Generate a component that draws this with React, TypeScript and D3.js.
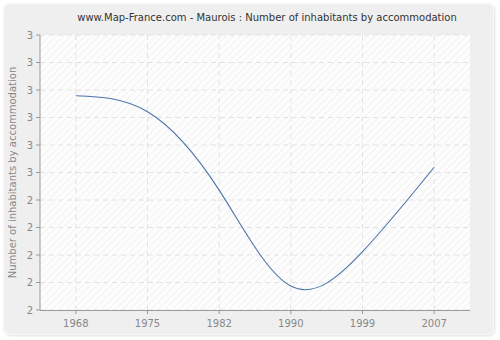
import React from "react";
import * as d3 from "d3";

const years = ["1968", "1975", "1982", "1990", "1999", "2007"];
const values = [2.779, 2.721, 2.436, 2.087, 2.212, 2.519];
const yTicks = [2, 2.1, 2.2, 2.3, 2.4, 2.5, 2.6, 2.7, 2.8, 2.9, 3];

const W = 500, H = 340;
const L = 40, R = 470, T = 35, B = 310;

export default function App() {
  const x = d3.scaleBand<string>().domain(years).range([L, R]);
  const y = d3.scaleLinear().domain([2, 3]).range([B, T]);
  const cx = (d: string) => (x(d) as number) + x.bandwidth() / 2;
  const line = d3
    .line<number>()
    .x((_, i) => cx(years[i]))
    .y((d) => y(d))
    .curve(d3.curveNatural);
  const font = "'DejaVu Sans', Verdana, sans-serif";
  return (
    <svg width={W} height={H} style={{ position: "absolute", left: 0, top: 0 }} fontFamily={font}>
      <defs>
        <pattern id="hatch" width="5" height="5" patternUnits="userSpaceOnUse" patternTransform="rotate(45)">
          <rect width="5" height="5" fill="#fdfdfd" />
          <line x1="0" y1="0" x2="0" y2="5" stroke="#ececec" strokeWidth="1.2" />
        </pattern>
        <filter id="sh" x="-5%" y="-5%" width="110%" height="110%">
          <feDropShadow dx="1" dy="1" stdDeviation="1.2" floodColor="#000" floodOpacity="0.12" />
        </filter>
      </defs>
      <rect x={0} y={0} width={W} height={H} fill="#ffffff" />
      <rect x={3.5} y={3.5} width={490} height={331} rx={6} fill="#efefef" stroke="#f8f8f8" filter="url(#sh)" />
      <text x={267} y={21} textAnchor="middle" fontSize={10} fill="#333">
        www.Map-France.com - Maurois : Number of inhabitants by accommodation
      </text>
      <rect x={L} y={T} width={R - L} height={B - T} fill="url(#hatch)" />
      {yTicks.map((t) => (
        <line key={"gy" + t} x1={L} x2={R} y1={y(t)} y2={y(t)} stroke="#e2e2e2" strokeDasharray="5,4" />
      ))}
      {years.map((yr) => (
        <line key={"gx" + yr} x1={cx(yr)} x2={cx(yr)} y1={T} y2={B} stroke="#e2e2e2" strokeDasharray="5,4" />
      ))}
      <path d={line(values) || ""} fill="none" stroke="#4a74a8" strokeWidth={1.1} />
      <line x1={L} x2={L} y1={T} y2={B} stroke="#999" />
      <line x1={L} x2={R} y1={B + 0.5} y2={B + 0.5} stroke="#999" />
      {yTicks.map((t) => (
        <g key={"ty" + t}>
          <line x1={L - 4} x2={L} y1={y(t)} y2={y(t)} stroke="#999" />
          <text x={L - 7} y={y(t) + 3.5} textAnchor="end" fontSize={10} fill="#888">
            {d3.format(".0f")(t)}
          </text>
        </g>
      ))}
      {years.map((yr) => (
        <g key={"tx" + yr}>
          <line x1={cx(yr)} x2={cx(yr)} y1={B} y2={B + 4} stroke="#999" />
          <text x={cx(yr)} y={B + 17} textAnchor="middle" fontSize={10} fill="#888">
            {yr}
          </text>
        </g>
      ))}
      <text transform={`translate(16,${(T + B) / 2}) rotate(-90)`} textAnchor="middle" fontSize={10} fill="#888">
        Number of inhabitants by accommodation
      </text>
    </svg>
  );
}
